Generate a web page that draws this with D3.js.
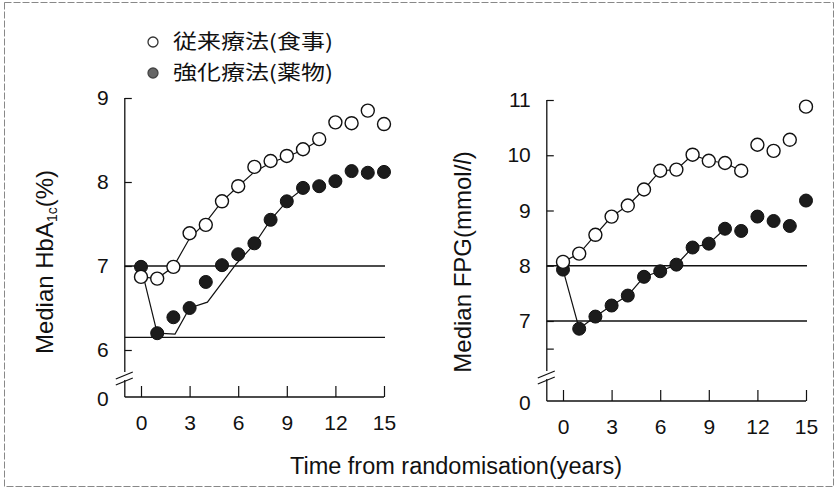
<!DOCTYPE html>
<html>
<head>
<meta charset="utf-8">
<script src="https://cdn.jsdelivr.net/npm/d3@7"></script>
<style>
  body { margin: 0; background: #fff; }
  svg text { font-family: "Liberation Sans", Arial, sans-serif; fill: #111; }
  .cjk { font-family: "Noto Sans CJK JP", sans-serif; }
</style>
</head>
<body>
<div class="chart"></div>
<script>
// years on x
const years = [0, 1, 2, 3, 4, 5, 6, 7, 8, 9, 10, 11, 12, 13, 14, 15];
const xTicks = [0, 3, 6, 9, 12, 15];

// HbA1c (%) - left panel
const hbConventional = [6.87, 6.85, 6.99, 7.39, 7.49, 7.77, 7.95, 8.18, 8.25, 8.31, 8.39, 8.51, 8.71, 8.70, 8.85, 8.69];
const hbIntensive = [6.99, 6.2, 6.39, 6.5, 6.81, 7.01, 7.14, 7.27, 7.55, 7.77, 7.93, 7.95, 8.01, 8.13, 8.11, 8.12];
// smoothed lines drawn through the left panel
const hbConvTrend = [[0, 6.87], [1, 6.85], [2, 6.99], [3, 7.33], [4, 7.52], [5, 7.77], [6, 7.95], [7, 8.12], [8, 8.23], [9, 8.3], [10, 8.38], [11, 8.5]];
const hbIntTrend = [[0, 6.99], [1, 6.2], [2.1, 6.19], [3, 6.5], [4.1, 6.57], [5.9, 7.03], [7, 7.26], [8, 7.55], [9, 7.77], [10, 7.92]];
const hbRefLines = [7, 6.15];
const hbTicks = [6, 7, 8, 9];

// FPG (mmol/l) - right panel
const fpgConventional = [8.07, 8.22, 8.56, 8.89, 9.09, 9.38, 9.72, 9.74, 10.01, 9.9, 9.86, 9.72, 10.19, 10.08, 10.28, 10.88];
const fpgIntensive = [7.93, 6.86, 7.08, 7.28, 7.46, 7.8, 7.9, 8.02, 8.33, 8.4, 8.67, 8.63, 8.89, 8.81, 8.72, 9.18];
const fpgConvLastJoined = 11;
const fpgIntLastJoined = 10;
const fpgRefLines = [8, 7];
const fpgTicks = [7, 8, 9, 10, 11, 6.5];

const legendLabels = ["従来療法(食事)", "強化療法(薬物)"];

const width = 834, height = 496;

const svg = d3.select(".chart").append("svg")
  .attr("width", width)
  .attr("height", height);

// scanned page frame
svg.append("rect")
  .attr("x", 4.5).attr("y", 2.5)
  .attr("width", 829).attr("height", 484)
  .attr("fill", "none")
  .attr("stroke", "#888")
  .attr("stroke-dasharray", "7,2");

//panel builder
function panel(opt) {
  const x = d3.scaleLinear().domain([0, 15]).range(opt.xRange);
  const y = d3.scaleLinear().domain(opt.yDomain).range(opt.yRange);
  const g = svg.append("g");
  const axisX = x(-1);
  const top = y(opt.yDomain[1]);

  // y axis line with break
  g.append("line")
    .attr("x1", axisX).attr("x2", axisX)
    .attr("y1", top).attr("y2", opt.breakY - 3)
    .attr("stroke", "#111").attr("stroke-width", 1.3);
  g.append("line")
    .attr("x1", axisX).attr("x2", axisX)
    .attr("y1", opt.breakY + 5).attr("y2", opt.baseY)
    .attr("stroke", "#111").attr("stroke-width", 1.3);
  [0, 6].forEach(off => {
    g.append("line")
      .attr("x1", axisX - 9).attr("y1", opt.breakY + 4 + off)
      .attr("x2", axisX + 8).attr("y2", opt.breakY - 3 + off)
      .attr("stroke", "#111").attr("stroke-width", 1.2);
  });

  // y ticks
  const yAxis = d3.axisLeft(y)
    .tickValues(opt.yTicks)
    .tickSize(-7)
    .tickPadding(16)
    .tickFormat(d => Number.isInteger(d) ? d : "");
  const ya = g.append("g")
    .attr("transform", "translate(" + axisX + ",0)")
    .call(yAxis);
  ya.select(".domain").remove();
  ya.selectAll("line").attr("stroke", "#111").attr("stroke-width", 1.2);
  ya.selectAll("text").attr("font-size", 21).attr("fill", "#111")
    .attr("font-family", "Liberation Sans, Arial, sans-serif");

  // zero label below the break
  g.append("text")
    .attr("x", axisX - 16).attr("y", opt.baseY + 2)
    .attr("text-anchor", "end").attr("dy", "0.35em")
    .attr("font-size", 21)
    .text("0");

  // x axis
  g.append("line")
    .attr("x1", axisX).attr("x2", x(15))
    .attr("y1", opt.baseY).attr("y2", opt.baseY)
    .attr("stroke", "#111").attr("stroke-width", 1.5);
  const xAxis = d3.axisBottom(x)
    .tickValues(xTicks)
    .tickSizeInner(-11)
    .tickSizeOuter(0)
    .tickPadding(18);
  const xa = g.append("g")
    .attr("transform", "translate(0," + opt.baseY + ")")
    .call(xAxis);
  xa.select(".domain").remove();
  xa.selectAll("line").attr("stroke", "#111").attr("stroke-width", 1.2);
  xa.selectAll("text").attr("font-size", 21).attr("fill", "#111")
    .attr("font-family", "Liberation Sans, Arial, sans-serif");

  // reference lines
  g.selectAll("line.ref")
    .data(opt.refs)
    .enter()
    .append("line")
    .attr("class", "ref")
    .attr("x1", axisX).attr("x2", x(15) + 1)
    .attr("y1", d => y(d)).attr("y2", d => y(d))
    .attr("stroke", "#111").attr("stroke-width", 1.3);

  const line = d3.line().x(d => x(d[0])).y(d => y(d[1]));
  opt.trends.forEach(t => {
    g.append("path")
      .attr("d", line(t))
      .attr("fill", "none")
      .attr("stroke", "#111")
      .attr("stroke-width", 1.2);
  });

  // points
  g.selectAll("circle.int")
    .data(opt.intensive)
    .enter()
    .append("circle")
    .attr("class", "int")
    .attr("cx", (d, i) => x(years[i]))
    .attr("cy", d => y(d))
    .attr("r", 6.5)
    .attr("fill", "#1c1c1c")
    .attr("stroke", "#111")
    .attr("stroke-width", 1);

  g.selectAll("circle.conv")
    .data(opt.conventional)
    .enter()
    .append("circle")
    .attr("class", "conv")
    .attr("cx", (d, i) => x(years[i]))
    .attr("cy", d => y(d))
    .attr("r", 6.5)
    .attr("fill", "#fff")
    .attr("stroke", "#111")
    .attr("stroke-width", 1.4);

  // y title
  const title = g.append("text")
    .attr("transform", "translate(" + opt.titleX + "," + opt.titleY + ") rotate(-90)")
    .attr("text-anchor", "middle")
    .attr("font-size", 24);
  opt.title(title);
}

panel({
  xRange: [141, 384],
  yDomain: [6, 9],
  yRange: [350, 98],
  yTicks: hbTicks,
  breakY: 375,
  baseY: 397,
  refs: hbRefLines,
  trends: [hbConvTrend, hbIntTrend],
  conventional: hbConventional,
  intensive: hbIntensive,
  titleX: 53,
  titleY: 262,
  title: t => {
    t.append("tspan").text("Median HbA");
    t.append("tspan").attr("font-size", 14).attr("dy", 4).text("1c");
    t.append("tspan").attr("dy", -4).text("(%)");
  }
});

panel({
  xRange: [563, 806],
  yDomain: [7, 11],
  yRange: [321, 100],
  yTicks: fpgTicks,
  breakY: 374,
  baseY: 401,
  refs: fpgRefLines,
  trends: [
    years.slice(0, fpgConvLastJoined + 1).map((yr, i) => [yr, fpgConventional[i]]),
    years.slice(0, fpgIntLastJoined + 1).map((yr, i) => [yr, fpgIntensive[i]])
  ],
  conventional: fpgConventional,
  intensive: fpgIntensive,
  titleX: 471,
  titleY: 262,
  title: t => {
    t.append("tspan").text("Median FPG(mmol/");
    t.append("tspan").attr("font-style", "italic").text("l");
    t.append("tspan").text(")");
  }
});

// x title
svg.append("text")
  .attr("x", 456).attr("y", 466)
  .attr("text-anchor", "middle")
  .attr("dy", "0.35em")
  .attr("font-size", 23.5)
  .text("Time from randomisation(years)");

// legend
const legend = svg.append("g");
legendLabels.forEach((lab, i) => {
  const ly = 42 + i * 31;
  legend.append("circle")
    .attr("cx", 153).attr("cy", ly)
    .attr("r", 5)
    .attr("fill", i === 0 ? "#fff" : "#666")
    .attr("stroke", i === 0 ? "#333" : "#444")
    .attr("stroke-width", 1.3);
  legend.append("text")
    .attr("class", "cjk")
    .attr("x", 173).attr("y", ly)
    .attr("dy", "0.35em")
    .attr("font-size", 20)
    .attr("textLength", 160)
    .attr("lengthAdjust", "spacingAndGlyphs")
    .text(lab);
});
</script>
</body>
</html>
